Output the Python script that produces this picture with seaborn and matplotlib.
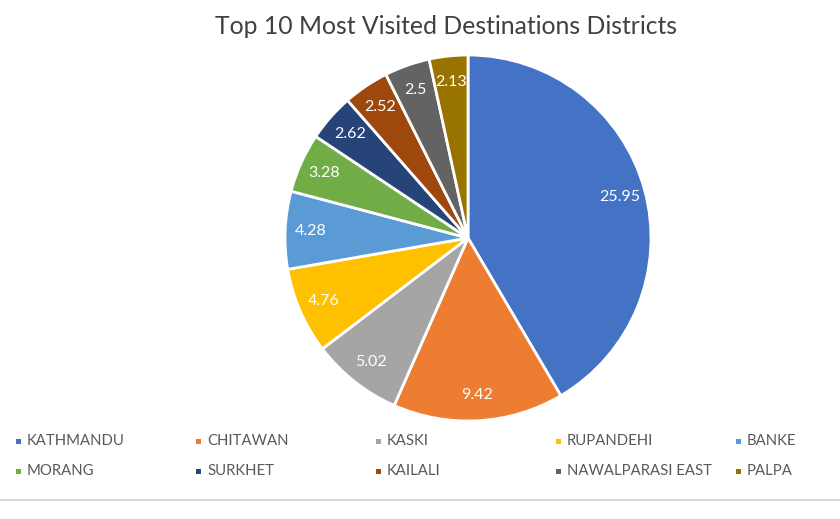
import numpy as np
import matplotlib
matplotlib.use("Agg")
import matplotlib.pyplot as plt
from matplotlib.patches import Rectangle
import seaborn as sns

districts = ["KATHMANDU", "CHITAWAN", "KASKI", "RUPANDEHI", "BANKE",
             "MORANG", "SURKHET", "KAILALI", "NAWALPARASI EAST", "PALPA"]
values = [25.95, 9.42, 5.02, 4.76, 4.28, 3.28, 2.62, 2.52, 2.5, 2.13]
value_labels = ["25.95", "9.42", "5.02", "4.76", "4.28", "3.28", "2.62", "2.52", "2.5", "2.13"]
colors = ["#4472C4", "#ED7D31", "#A5A5A5", "#FFC000", "#5B9BD5",
          "#70AD47", "#264478", "#9E480E", "#636363", "#997300"]
title = "Top 10 Most Visited Destinations Districts"

sns.set_theme(style="white", palette=colors)
plt.rcParams["font.family"] = ["Lato", "DejaVu Sans"]

W, H = 840, 519
fig = plt.figure(figsize=(W / 100, H / 100), dpi=100)
cx, cy, r = 468, 519 - 238, 183
ax = fig.add_axes([(cx - r) / W, (cy - r) / H, 2 * r / W, 2 * r / H])

wedges, _ = ax.pie(values, colors=sns.color_palette(colors, len(colors)),
                   startangle=90, counterclock=False,
                   wedgeprops=dict(edgecolor="white", linewidth=2))
ax.set_xlim(-1, 1)
ax.set_ylim(-1, 1)
ax.set_aspect("equal")
ax.axis("off")

for w, lab in zip(wedges, value_labels):
    ang = np.deg2rad((w.theta1 + w.theta2) / 2)
    d = 0.86
    ax.text(d * np.cos(ang), d * np.sin(ang), lab, ha="center", va="center",
            color="white", fontsize=11.5)

fig.text(446 / W, 1 - 27 / H, title, ha="center", va="center",
         fontsize=17.8, color="#404040")

# legend laid out in equal columns
for i, (name, c) in enumerate(zip(districts, colors)):
    col, row = i % 5, i // 5
    x = 18 + 180 * col
    y = 441 + 30 * row
    fig.add_artist(Rectangle(((x - 2.5) / W, 1 - (y + 2.5) / H), 5 / W, 5 / H,
                             transform=fig.transFigure, color=c, lw=0))
    fig.text((x + 9) / W, 1 - y / H, name, ha="left", va="center",
             fontsize=10.7, color="#595959")

fig.add_artist(plt.Line2D([0, 1], [1 - 500 / H, 1 - 500 / H],
                          transform=fig.transFigure, color="#D9D9D9", lw=1.5))

fig.savefig("out.png", dpi=100)
